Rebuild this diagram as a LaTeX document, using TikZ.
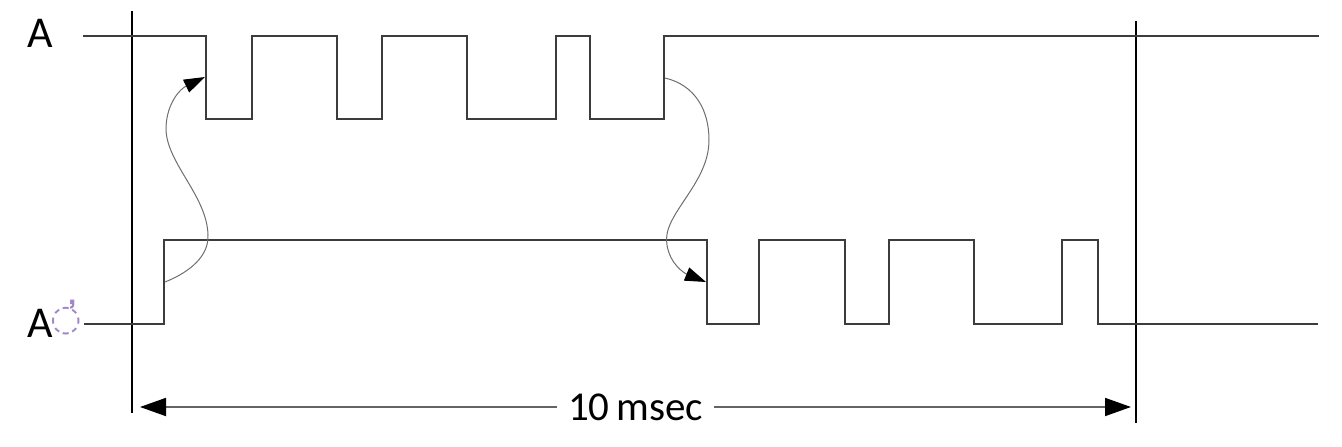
\documentclass[tikz,border=0pt]{standalone}
\usepackage{fontspec}
\setmainfont{Carlito}
\newfontfamily\dejavu{DejaVu Sans}
\usetikzlibrary{arrows.meta}
\definecolor{sig}{RGB}{60,60,60}
\definecolor{curv}{RGB}{110,110,110}
\definecolor{dimc}{RGB}{100,100,100}
\definecolor{dotc}{RGB}{160,135,200}
\tikzset{
  signal/.style={draw=sig, line width=1.7pt, line join=miter},
  marker/.style={draw=black, line width=1.3pt},
  causal/.style={draw=curv, line width=1pt, -{Triangle[length=21pt,width=14pt,color=black]}},
  dimline/.style={draw=dimc, line width=1.8pt, {Triangle[length=26pt,width=18pt,color=black]}-{Triangle[length=26pt,width=18pt,color=black]}},
  lbl/.style={inner sep=0pt, anchor=base west, font=\fontsize{44}{50}\selectfont}
}
\begin{document}
\begin{tikzpicture}[x=1pt,y=-1pt]
\useasboundingbox (0,0) rectangle (1342,447);
% labels
\node[lbl] (la) at (27,47) {A};
\node[lbl] (lb) at (27,337) {A};
\node[inner sep=0pt, text=dotc, font=\dejavu\fontsize{36}{40}\selectfont] (lbmark) at (66,318) {◌̓};
% vertical markers
\coordinate (v1t) at (132,11);
\coordinate (v1b) at (132,413);
\coordinate (v2t) at (1136,21);
\coordinate (v2b) at (1136,423);
\draw[marker] (v1t) -- (v1b);
\draw[marker] (v2t) -- (v2b);
% signal A
\draw[signal] (83,36) -- (206,36) -- (206,119) -- (252,119) -- (252,36) -- (337,36) -- (337,119)
  -- (382,119) -- (382,36) -- (467,36) -- (467,119) -- (556,119) -- (556,36) -- (590,36)
  -- (590,119) -- (664,119) -- (664,36) -- (1319,36);
% signal A'
\draw[signal] (84,324) -- (164,324) -- (164,240) -- (707,240) -- (707,324) -- (759,324) -- (759,240)
  -- (845,240) -- (845,324) -- (889,324) -- (889,240) -- (974,240) -- (974,324) -- (1062,324)
  -- (1062,240) -- (1098,240) -- (1098,324) -- (1318,324);
% causal arrows
\coordinate (c1s) at (165,282);
\coordinate (c1e) at (205,77);
\coordinate (c2s) at (665,78);
\coordinate (c2e) at (706,282);
\draw[causal] (c1s) .. controls (190,272) and (209,256) .. (208,235)
  .. controls (207,195) and (165,162) .. (166,127)
  .. controls (167,103) and (180,89) .. (c1e);
\draw[causal] (c2s) .. controls (695,85) and (709,110) .. (709,140)
  .. controls (709,185) and (661,215) .. (667,245)
  .. controls (670,264) and (684,273) .. (c2e);
% dimension
\coordinate (dl) at (140,407);
\coordinate (dr) at (1131,407);
\draw[dimline] (dl) -- (dr) node[midway, fill=white, inner xsep=11pt, inner ysep=2pt, font=\fontsize{41}{46}\selectfont] (dimtxt) {10\,msec};
\end{tikzpicture}
\end{document}
